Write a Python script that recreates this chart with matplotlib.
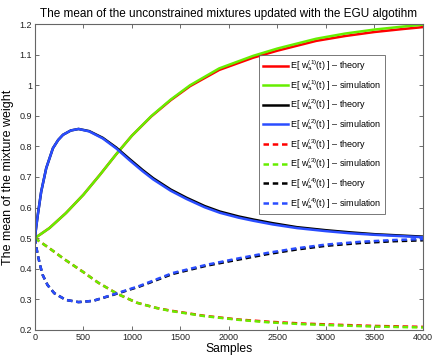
import numpy as np
import matplotlib.pyplot as plt

plt.rcParams['font.family'] = ['Liberation Sans', 'DejaVu Sans']
plt.rcParams['mathtext.fontset'] = 'custom'
plt.rcParams['mathtext.rm'] = 'Liberation Sans'
plt.rcParams['mathtext.it'] = 'Liberation Sans'

# mixture 1 (solid, rising)
s1 = [0, 150, 320, 500, 670, 840, 1000, 1200, 1400, 1600, 1900, 2250, 2500, 2900, 3200, 3500, 3800, 4000]
w1_sim = [0.5, 0.533, 0.582, 0.642, 0.707, 0.775, 0.835, 0.899, 0.953, 1.000, 1.055, 1.096, 1.120, 1.152, 1.169, 1.182, 1.192, 1.198]
w1_theory = [0.5, 0.533, 0.582, 0.642, 0.707, 0.775, 0.835, 0.898, 0.951, 0.997, 1.050, 1.090, 1.113, 1.145, 1.161, 1.174, 1.184, 1.190]

# mixture 2 (solid, peak then decay)
s2 = [0, 15, 30, 65, 117, 186, 240, 290, 370, 450, 560, 700, 840, 975, 1110, 1220, 1400, 1564, 1750, 1907, 2100, 2250, 2450, 2700, 3000, 3250, 3500, 3750, 4000]
w2_theory = [0.5, 0.54, 0.576, 0.652, 0.729, 0.794, 0.821, 0.838, 0.852, 0.857, 0.850, 0.828, 0.796, 0.759, 0.723, 0.696, 0.659, 0.632, 0.605, 0.587, 0.571, 0.561, 0.549, 0.536, 0.526, 0.519, 0.513, 0.509, 0.505]
w2_sim = [0.5, 0.54, 0.576, 0.652, 0.729, 0.794, 0.821, 0.838, 0.852, 0.857, 0.849, 0.826, 0.793, 0.755, 0.719, 0.692, 0.655, 0.628, 0.601, 0.583, 0.567, 0.557, 0.545, 0.533, 0.523, 0.516, 0.511, 0.507, 0.503]

# mixture 3 (dashed, decaying)
s3 = [0, 150, 300, 500, 650, 850, 1050, 1250, 1400, 1750, 2100, 2400, 2750, 3100, 3500, 4000]
w3_sim = [0.5, 0.467, 0.432, 0.389, 0.355, 0.318, 0.289, 0.272, 0.262, 0.245, 0.233, 0.225, 0.219, 0.215, 0.211, 0.208]
w3_theory = [0.5, 0.467, 0.432, 0.389, 0.355, 0.318, 0.289, 0.272, 0.263, 0.246, 0.234, 0.227, 0.221, 0.217, 0.213, 0.210]

# mixture 4 (dashed, dip then recover)
s4 = [0, 15, 30, 55, 80, 130, 200, 320, 450, 600, 800, 1080, 1420, 1770, 2100, 2400, 2700, 3000, 3350, 3700, 4000]
w4_sim = [0.5, 0.47, 0.445, 0.41, 0.38, 0.347, 0.32, 0.298, 0.291, 0.295, 0.315, 0.344, 0.386, 0.413, 0.434, 0.452, 0.467, 0.479, 0.488, 0.494, 0.497]
w4_theory = [0.5, 0.47, 0.445, 0.41, 0.38, 0.347, 0.32, 0.298, 0.291, 0.295, 0.314, 0.342, 0.383, 0.410, 0.430, 0.448, 0.463, 0.475, 0.484, 0.490, 0.493]

red = '#ff0000'
green = '#66ee00'
blue = '#2a4dff'
lw = 1.8
dash = (0, (2.2, 1.5))

fig = plt.figure(figsize=(4.36, 3.59), dpi=100)
ax = fig.add_axes([0.080, 0.081, 0.890, 0.852])

ax.plot(s1, w1_theory, color=red, lw=lw, label=r'E[ $w_a^{(1)}$(t) ] – theory')
ax.plot(s1, w1_sim, color=green, lw=lw, label=r'E[ $w_a^{(1)}$(t) ] – simulation')
ax.plot(s2, w2_theory, color='k', lw=lw, label=r'E[ $w_a^{(2)}$(t) ] – theory')
ax.plot(s2, w2_sim, color=blue, lw=lw, label=r'E[ $w_a^{(2)}$(t) ] – simulation')
ax.plot(s3, w3_theory, color=red, lw=lw, ls=dash, label=r'E[ $w_a^{(3)}$(t) ] – theory')
ax.plot(s3, w3_sim, color=green, lw=lw, ls=dash, label=r'E[ $w_a^{(3)}$(t) ] – simulation')
ax.plot(s4, w4_theory, color='k', lw=lw, ls=dash, label=r'E[ $w_a^{(4)}$(t) ] – theory')
ax.plot(s4, w4_sim, color=blue, lw=lw, ls=dash, label=r'E[ $w_a^{(4)}$(t) ] – simulation')

ax.set_xlim(0, 4000)
ax.set_ylim(0.2, 1.2)
ax.set_xticks(np.arange(0, 4001, 500))
ax.set_yticks(np.arange(0.2, 1.21, 0.1))
ax.set_yticklabels(['0.2', '0.3', '0.4', '0.5', '0.6', '0.7', '0.8', '0.9', '1', '1.1', '1.2'])
ax.tick_params(direction='in', top=True, right=True, labelsize=6.5, length=3, width=0.6,
               colors='#555555', labelcolor='#222222', pad=2)
for sp in ax.spines.values():
    sp.set_color('#666666')
    sp.set_linewidth(0.8)

ax.set_title('The mean of the unconstrained mixtures updated with the EGU algotihm', fontsize=8.5, pad=5)
ax.set_xlabel('Samples', fontsize=8.7, labelpad=1)
ax.set_ylabel('The mean of the mixture weight', fontsize=9, labelpad=4)

leg = ax.legend(loc='upper right', bbox_to_anchor=(0.902, 0.90), fontsize=6.5, frameon=True,
                fancybox=False, edgecolor='#555555', handlelength=2.8, handletextpad=0.2,
                labelspacing=0.52, borderpad=0.4, borderaxespad=0)
leg.get_frame().set_linewidth(0.7)

fig.savefig('out.png', dpi=100)
